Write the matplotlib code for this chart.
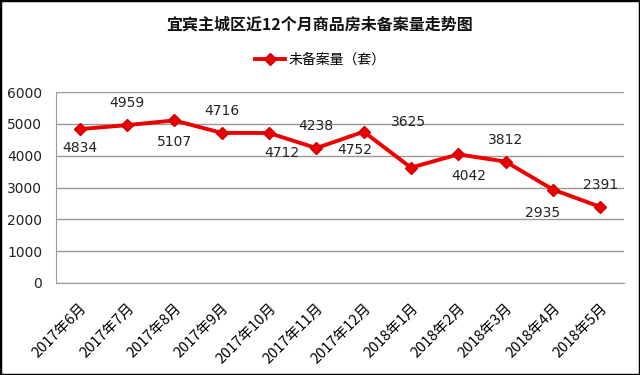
import matplotlib.pyplot as plt
from matplotlib.patches import Rectangle

plt.rcParams['font.family'] = ['Noto Sans CJK SC', 'DejaVu Sans']

months = ['2017年6月', '2017年7月', '2017年8月', '2017年9月', '2017年10月', '2017年11月',
          '2017年12月', '2018年1月', '2018年2月', '2018年3月', '2018年4月', '2018年5月']
values = [4834, 4959, 5107, 4716, 4712, 4238, 4752, 3625, 4042, 3812, 2935, 2391]

# label offsets from the point, in pixels (dx, dy up)
label_offsets = [(0, -19), (0, 22), (0, -22), (0, 22), (13, -20), (0, 22),
                 (-9, -18), (-3, 46), (10, -22), (0, 22), (-10, -23), (0, 22)]

fig = plt.figure(figsize=(6.4, 3.75), dpi=100)
ax = fig.add_axes([56/640, 1-283/375, (624-56)/640, (283-92)/375])

x = list(range(len(values)))
ax.plot(x, values, color='#ee0000', lw=2.8, marker='D', ms=6, mec='#cc0000', mfc='#ee0000',
        label='未备案量（套）')
for i, v in enumerate(values):
    dx, dy = label_offsets[i]
    ax.annotate(str(v), (i, v), xytext=(dx*0.72, dy*0.72), textcoords='offset points',
                ha='center', va='center', fontsize=10, color='#222222', family='DejaVu Sans')

ax.set_xlim(-0.5, len(values) - 0.5)
ax.set_ylim(0, 6000)
ax.set_yticks(range(0, 6001, 1000))
ax.set_xticks(x)
ax.set_xticklabels(months, rotation=45, ha='right', rotation_mode='anchor', fontsize=10.5)
ax.tick_params(axis='y', labelsize=10, length=0, pad=10)
ax.tick_params(axis='x', length=0, pad=13)
for lbl in ax.get_yticklabels():
    lbl.set_family('DejaVu Sans')
    lbl.set_color('#222222')
ax.grid(axis='y', color='#999999', lw=1)
ax.set_axisbelow(True)
for s in ['top', 'right']:
    ax.spines[s].set_visible(False)
ax.spines['left'].set_color('#999999')
ax.spines['bottom'].set_color('#999999')

fig.text(0.5, 1-25/375, '宜宾主城区近12个月商品房未备案量走势图', ha='center', va='center',
         fontsize=11.5, fontweight='bold', color='#111111')
fig.legend(loc='center', bbox_to_anchor=(0.5, 1-60/375), frameon=False, fontsize=10,
           handlelength=2.2, handletextpad=0.2)

fig.patches.append(Rectangle((0, 0), 1, 1, transform=fig.transFigure, fill=False,
                             edgecolor='black', lw=2.5))

fig.savefig('out.png', dpi=100)
